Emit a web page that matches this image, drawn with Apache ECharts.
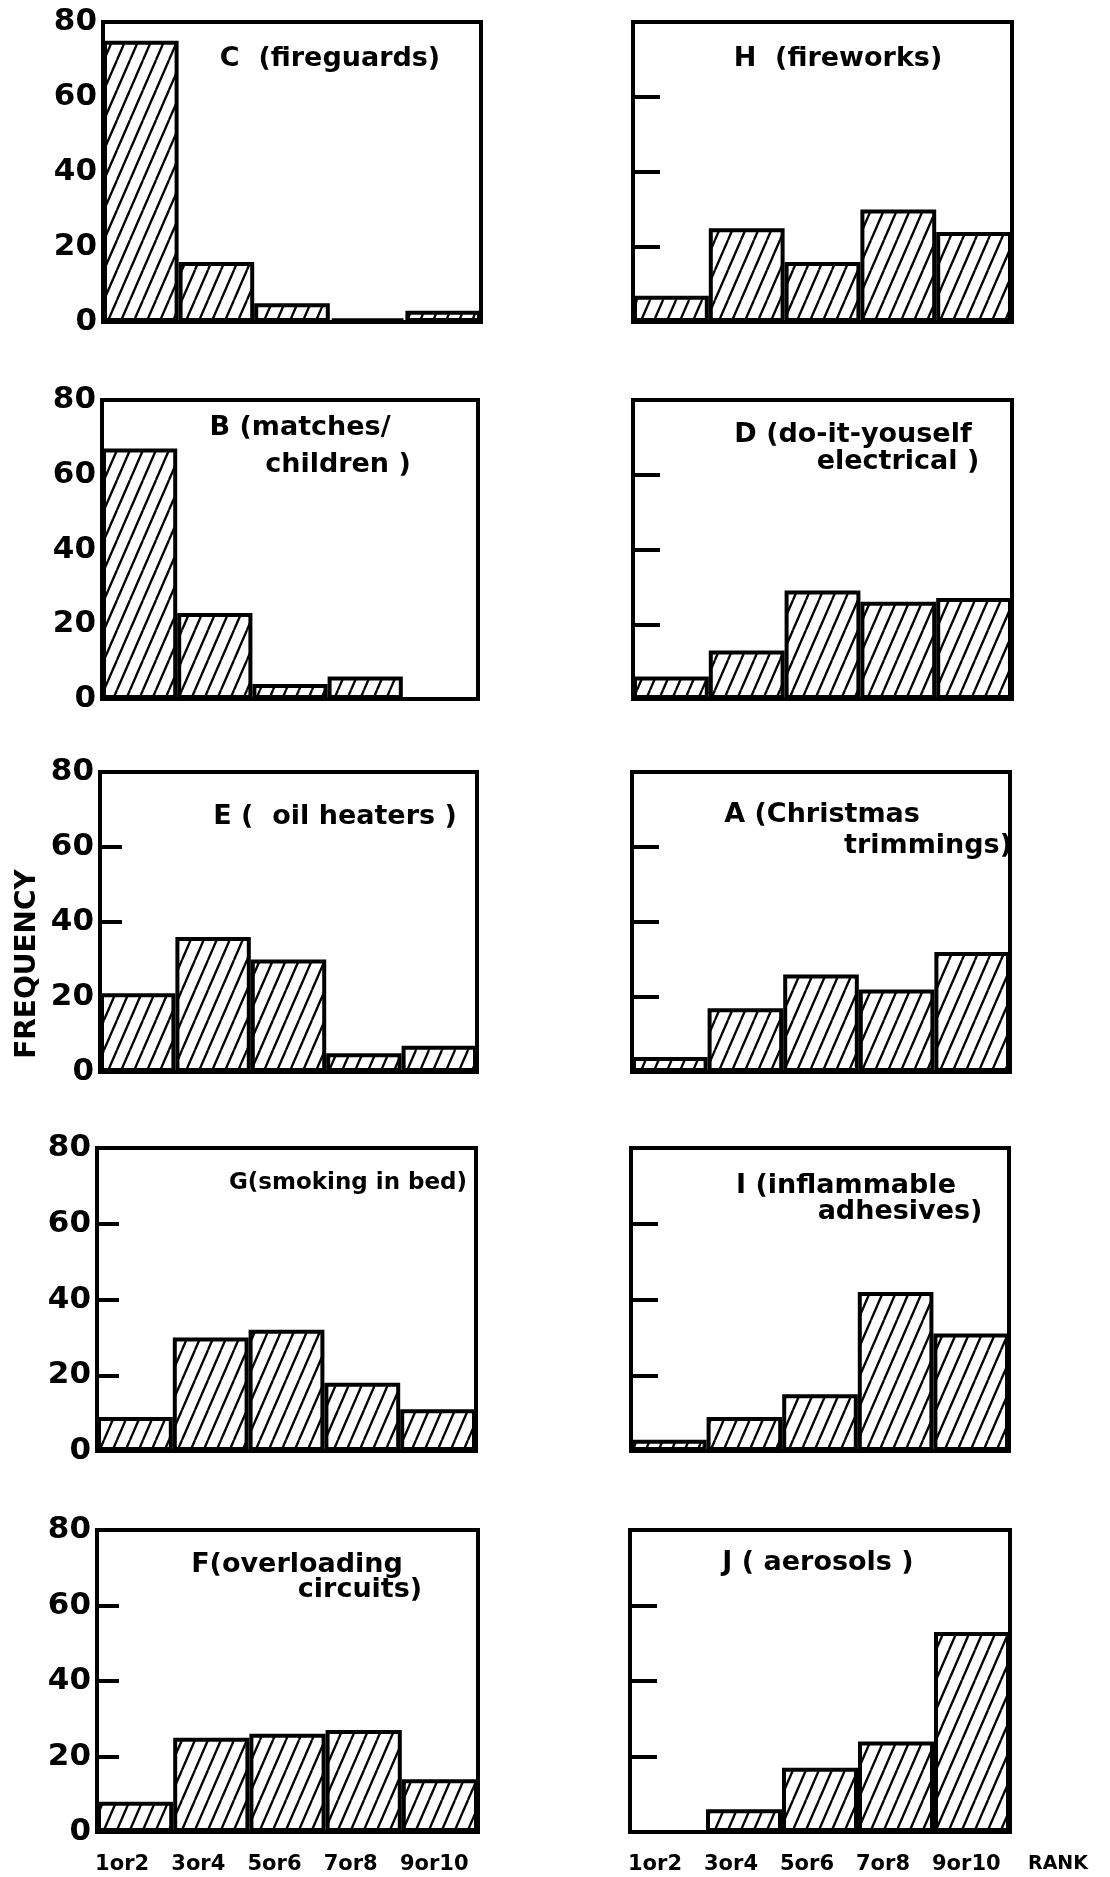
<!DOCTYPE html>
<html>
<head>
<meta charset="utf-8">
<script src="https://cdn.jsdelivr.net/npm/echarts@6/dist/echarts.min.js"></script>
<style>
html,body{margin:0;padding:0;background:#fff;}
#c{width:1110px;height:1877px;}
</style>
</head>
<body>
<div id="c"></div>
<script>
// ---- data ----
const categories = ['1or2', '3or4', '5or6', '7or8', '9or10'];
const yTickValues = [0, 20, 40, 60, 80];
const xAxisName = 'RANK';
const yAxisName = 'FREQUENCY';

const C_fireguards   = [75, 16, 5, 1, 3];
const H_fireworks    = [7, 25, 16, 30, 24];
const B_matches      = [67, 23, 4, 6, 0];
const D_diy          = [6, 13, 29, 26, 27];
const E_oilHeaters   = [21, 36, 30, 5, 7];
const A_christmas    = [4, 17, 26, 22, 32];
const G_smoking      = [9, 30, 32, 18, 11];
const I_adhesives    = [3, 9, 15, 42, 31];
const F_overloading  = [8, 25, 26, 27, 14];
const J_aerosols     = [0, 6, 17, 24, 53];

const panelTitles = [
  ['C  (fireguards)'],
  ['H  (fireworks)'],
  ['B (matches/', 'children )'],
  ['D (do-it-youself', 'electrical )'],
  ['E (  oil heaters )'],
  ['A (Christmas', 'trimmings)'],
  ['G(smoking in bed)'],
  ['I (inflammable', 'adhesives)'],
  ['F(overloading', 'circuits)'],
  ['J ( aerosols )']
];
const panelValues = [C_fireguards, H_fireworks, B_matches, D_diy, E_oilHeaters,
                     A_christmas, G_smoking, I_adhesives, F_overloading, J_aerosols];

// ---- layout (pixels) ----
const rowTop    = [22, 400, 772, 1148, 1530];
const rowBottom = [322, 699, 1072, 1451, 1832];
const leftL  = [103, 102, 100, 97, 97];
const leftR  = [481, 478, 477, 476, 478];
const rightL = [633, 633, 632, 631, 630];
const rightR = [1012, 1012, 1010, 1009, 1010];
// title line centres [cx, cy, fontSize]
const titlePos = [
  [[330, 59, 27]],
  [[838, 59, 27]],
  [[300, 428, 27], [338, 465, 27]],
  [[853, 435, 27], [898, 462, 27]],
  [[335, 817, 27]],
  [[822, 815, 27], [928, 846, 27]],
  [[348, 1183, 23]],
  [[846, 1186, 27], [900, 1212, 27]],
  [[297, 1565, 27], [360, 1590, 27]],
  [[818, 1563, 27]]
];

const FONT = '"DejaVu Sans", sans-serif';

function makeHatch() {
  const w = 13, h = 30;
  const c = document.createElement('canvas');
  c.width = w; c.height = h;
  const g = c.getContext('2d');
  g.fillStyle = '#fff';
  g.fillRect(0, 0, w, h);
  g.strokeStyle = '#000';
  g.lineWidth = 2.3;
  for (const dx of [-w, 0, w]) {
    g.beginPath();
    g.moveTo(dx, h);
    g.lineTo(dx + w, 0);
    g.stroke();
  }
  return c;
}
const hatch = { image: makeHatch(), repeat: 'repeat' };

const grids = [], xAxes = [], yAxes = [], series = [], graphics = [];
for (let i = 0; i < 10; i++) {
  const row = Math.floor(i / 2), col = i % 2;
  const L = col === 0 ? leftL[row] : rightL[row];
  const R = col === 0 ? leftR[row] : rightR[row];
  grids.push({
    left: L, top: rowTop[row], width: R - L, height: rowBottom[row] - rowTop[row],
    show: true, borderColor: '#000', borderWidth: 4, backgroundColor: 'transparent',
    containLabel: false, outerBoundsMode: 'none'
  });
  const bottomRow = row === 4;
  xAxes.push({
    type: 'category', gridIndex: i, data: categories,
    axisLine: { show: true, lineStyle: { color: '#000', width: 4 } },
    axisTick: { show: false },
    splitLine: { show: false },
    axisLabel: {
      show: bottomRow, interval: 0, margin: 22, color: '#000',
      formatter: v => '{a|' + v + '}',
      rich: { a: { width: 80, align: 'left', fontSize: 21, fontWeight: 'bold', fontFamily: FONT, color: '#000' } }
    },
    name: (bottomRow && col === 1) ? xAxisName : '',
    nameLocation: 'end', nameGap: 18,
    nameTextStyle: { fontSize: 19, fontWeight: 'bold', fontFamily: FONT, color: '#000',
                     verticalAlign: 'top', align: 'left', padding: [23, 0, 0, 0] }
  });
  yAxes.push({
    type: 'value', gridIndex: i, min: yTickValues[0], max: yTickValues[yTickValues.length - 1],
    interval: yTickValues[1] - yTickValues[0],
    axisLine: { show: true, lineStyle: { color: '#000', width: 4 } },
    axisTick: { show: true, inside: true, length: col === 0 ? 22 : 27, lineStyle: { color: '#000', width: 4 } },
    splitLine: { show: false },
    axisLabel: { show: col === 0, margin: 6, color: '#000', fontSize: 31, fontWeight: 'bold', fontFamily: FONT }
  });
  series.push({
    type: 'bar', xAxisIndex: i, yAxisIndex: i, data: panelValues[i],
    barCategoryGap: '0%', barGap: '0%',
    itemStyle: { color: hatch, borderColor: '#000', borderWidth: 4 },
    emphasis: { disabled: true }
  });
  panelTitles[i].forEach((t, k) => {
    const p = titlePos[i][k];
    graphics.push({
      type: 'text', x: p[0], y: p[1], z: 100,
      style: { text: t, fill: '#000', fontSize: p[2], fontWeight: 'bold', fontFamily: FONT,
               align: 'center', verticalAlign: 'middle' }
    });
  });
}
graphics.push({
  type: 'text', x: 28, y: 964, rotation: Math.PI / 2, z: 100,
  style: { text: yAxisName, fill: '#000', fontSize: 28, fontWeight: 'bold', fontFamily: FONT,
           align: 'center', verticalAlign: 'middle' }
});

const chart = echarts.init(document.getElementById('c'), null, { renderer: 'canvas' });
chart.setOption({
  animation: false,
  backgroundColor: '#fff',
  textStyle: { fontFamily: FONT, color: '#000' },
  grid: grids, xAxis: xAxes, yAxis: yAxes, series: series,
  graphic: graphics
});
</script>
</body>
</html>
